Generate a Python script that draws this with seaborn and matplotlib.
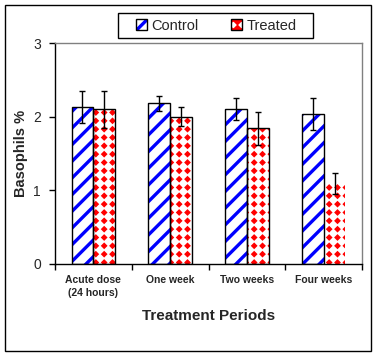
"""Basophils % by treatment period"""

import matplotlib
matplotlib.use("Agg")
import matplotlib.pyplot as plt
import numpy as np
import pandas as pd
import seaborn as sns
from matplotlib import hatch as mhatch
from matplotlib.container import BarContainer
from matplotlib.patches import Patch, Rectangle
from matplotlib.path import Path

periods = ["Acute dose\n(24 hours)", "One week", "Two weeks", "Four weeks"]
groups = ["Control", "Treated"]
control_vals = [2.13, 2.18, 2.11, 2.04]
treated_vals = [2.10, 2.00, 1.84, 1.09]
control_err = [0.22, 0.10, 0.15, 0.22]
treated_err = [0.25, 0.13, 0.23, 0.14]


class DiamondGrid(mhatch.HatchPatternBase):
    """filled diamonds on a square grid, used for the '.' hatch"""

    def __init__(self, hatch, density):
        self.num_rows = hatch.count('.') * density
        self.unit = Path.unit_regular_polygon(4)
        self.num_vertices = self.num_rows ** 2 * len(self.unit.vertices)

    def set_vertices_and_codes(self, vertices, codes):
        off = 1.0 / self.num_rows
        shape = self.unit.vertices * off * 0.29
        parts, cparts = [], []
        for r in range(self.num_rows):
            for c in range(self.num_rows):
                parts.append(shape + [(c + 0.5) * off, (r + 0.5) * off])
                cparts.append(self.unit.codes)
        np.concatenate(parts, out=vertices)
        np.concatenate(cparts, out=codes)


mhatch._hatch_types = [DiamondGrid if t is mhatch.SmallFilledCircles else t
                       for t in mhatch._hatch_types]

sns.set_theme(style="white")
plt.rcParams['font.family'] = ['Liberation Sans', 'DejaVu Sans']
plt.rcParams['hatch.linewidth'] = 2.4

df = pd.DataFrame({
    'period': periods * 2,
    'group': [groups[0]] * 4 + [groups[1]] * 4,
    'value': control_vals + treated_vals,
})

fig = plt.figure(figsize=(3.75, 3.55), dpi=100)
ax = fig.add_axes([0.1467, 0.2577, 0.8186, 0.6203])

sns.barplot(df, x='period', y='value', hue='group', order=periods, hue_order=groups,
            palette=['white', 'white'], width=0.57, errorbar=None, legend=False, ax=ax)


def style_bar(p, k):
    p.set_facecolor('white')
    p.set_linewidth(0)
    if k == 0:
        p.set_edgecolor('#0000ff')
        p.set_hatch('//')
    else:
        p.set_edgecolor('#ff0000')
        p.set_hatch('..')
        if hasattr(p, 'set_hatch_linewidth'):
            p.set_hatch_linewidth(1.0)


errs = [control_err, treated_err]
vals = [control_vals, treated_vals]
bar_containers = [c for c in ax.containers if isinstance(c, BarContainer)]
for k, cont in enumerate(bar_containers):
    xs = []
    for i, bar in enumerate(cont):
        style_bar(bar, k)
        if not (k == 1 and i == 3):
            ax.add_patch(Rectangle(bar.get_xy(), bar.get_width(), bar.get_height(),
                                   fill=False, edgecolor='black', linewidth=1, zorder=3))
        xs.append(bar.get_x() + bar.get_width() / 2)
    ax.errorbar(xs, vals[k], yerr=errs[k], fmt='none', ecolor='black',
                elinewidth=1, capsize=2.4, capthick=1, zorder=4)

ax.set_ylim(0, 3)
ax.set_xlim(-0.5, 3.5)
ax.set_yticks([0, 1, 2, 3])
ax.set_yticklabels(['0', '1', '2', '3'], fontsize=10)
ax.set_xticks([-0.5, 0.5, 1.5, 2.5, 3.5])
ax.set_xticklabels([])
ax.set_xticks(range(4), minor=True)
ax.set_xticklabels(periods, minor=True, fontsize=7.5, fontweight='bold', linespacing=1.45)
ax.tick_params(axis='x', which='major', direction='out', length=4, width=1, color='black', bottom=True)
ax.tick_params(axis='x', which='minor', length=0, pad=8, bottom=True)
ax.tick_params(axis='y', direction='out', length=4, width=1, color='black', left=True, pad=6)

for s in ['left', 'bottom']:
    ax.spines[s].set_color('black')
    ax.spines[s].set_linewidth(1)
for s in ['top', 'right']:
    ax.spines[s].set_color('#808080')
    ax.spines[s].set_linewidth(1)

ax.set_xlabel('Treatment Periods', fontsize=11, fontweight='bold', labelpad=8)
ax.set_ylabel('Basophils %', fontsize=10.5, fontweight='bold', labelpad=4)

legend_patches = []
for k in range(2):
    p = Patch()
    style_bar(p, k)
    legend_patches.append((p, Patch(fill=False, edgecolor='black', linewidth=1)))
fig.legend(legend_patches, groups, loc='center', bbox_to_anchor=(0.577, 0.928), ncol=2,
           fontsize=10.5, frameon=False, handlelength=0.75, handleheight=0.75,
           handletextpad=0.3, columnspacing=2.2)
fig.add_artist(Rectangle((118 / 375, 1 - 38 / 355), 195 / 375, 25 / 355, transform=fig.transFigure,
                         fill=False, edgecolor='black', linewidth=1))

fig.add_artist(Rectangle((4.5 / 375, 4.5 / 355), 366.5 / 375, 346 / 355, transform=fig.transFigure,
                         fill=False, edgecolor='black', linewidth=1))

fig.savefig('out.png', dpi=100)
